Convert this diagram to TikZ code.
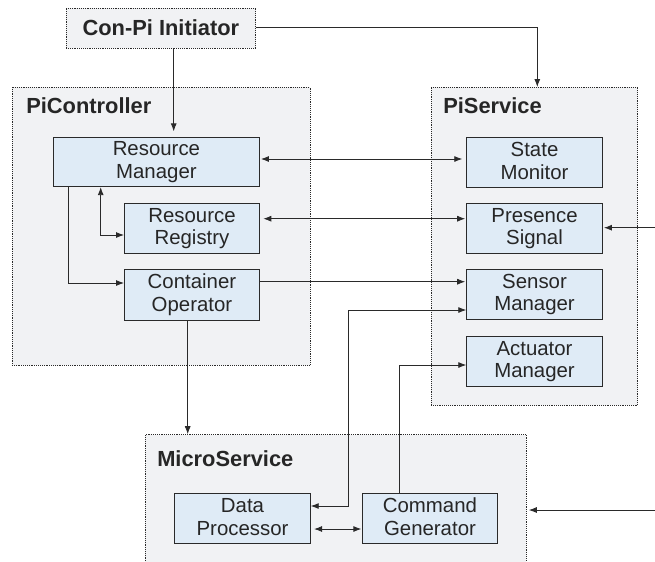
\documentclass[tikz,border=0pt]{standalone}
\usepackage{fontspec}
\setmainfont{Liberation Sans}
\usetikzlibrary{arrows.meta}
\definecolor{boxfill}{HTML}{DFEBF6}
\definecolor{groupfill}{HTML}{F1F2F4}
\definecolor{linecol}{HTML}{2A2A2A}
\definecolor{textcol}{HTML}{262626}
\newcommand{\lstrut}{\rule[-2.4pt]{0pt}{12pt}}
\newcommand{\twol}[2]{\lstrut #1\\\lstrut #2}
\tikzset{
  x=0.75pt,y=-0.75pt,
  group/.style={draw=linecol,dash pattern=on 0.7pt off 0.7pt,line width=0.6pt,fill=groupfill,inner sep=0pt,anchor=north west},
  comp/.style={draw=linecol,line width=0.7pt,fill=boxfill,align=center,text=textcol,font=\fontsize{15.3}{17}\selectfont,inner sep=0pt,anchor=north west},
  grouplabel/.style={font=\fontsize{16.4}{19}\selectfont\bfseries,text=textcol,anchor=west,inner sep=0pt},
  conn/.style={draw=linecol,line width=0.65pt,-{Latex[length=6pt,width=4.5pt]}},
  conn2/.style={draw=linecol,line width=0.65pt,{Latex[length=6pt,width=4.5pt]}-{Latex[length=6pt,width=4.5pt]}},
}
\begin{document}
\begin{tikzpicture}
\useasboundingbox (0,0) rectangle (655,561);
\fill[white] (0,0) rectangle (655,561);
% groups
\node[group,minimum width=298*0.75pt,minimum height=278*0.75pt] (pc) at (11.5,87) {};
\node[group,minimum width=206.5*0.75pt,minimum height=318*0.75pt] (ps) at (430.7,87) {};
\node[group,minimum width=381*0.75pt,minimum height=180*0.75pt] (ms) at (145,434.2) {};
\node[group,minimum width=189.5*0.75pt,minimum height=40*0.75pt,text=textcol,text height=12pt,text depth=1.6pt,font=\fontsize{16.4}{19}\selectfont\bfseries] (init) at (65.7,8) {Con-Pi Initiator};
\node[grouplabel] (pcl) at (26,106) {PiController};
\node[grouplabel] (psl) at (443,106) {PiService};
\node[grouplabel] (msl) at (157,459) {MicroService};
% comps
\node[comp,minimum width=206.5*0.75pt,minimum height=49.5*0.75pt] (rm) at (52.7,136.7) {\twol{Resource}{Manager}};
\node[comp,minimum width=135*0.75pt,minimum height=50*0.75pt] (rr) at (124,203) {\twol{Resource}{Registry}};
\node[comp,minimum width=135*0.75pt,minimum height=50.5*0.75pt] (co) at (124,269.3) {\twol{Container}{Operator}};
\node[comp,minimum width=135.5*0.75pt,minimum height=50*0.75pt] (sm) at (466.3,136.7) {\twol{State}{Monitor}};
\node[comp,minimum width=135.5*0.75pt,minimum height=50*0.75pt] (pres) at (466.3,203) {\twol{Presence}{Signal}};
\node[comp,minimum width=135.5*0.75pt,minimum height=50*0.75pt] (sens) at (466.3,269) {\twol{Sensor}{Manager}};
\node[comp,minimum width=135.5*0.75pt,minimum height=50*0.75pt] (act) at (466.3,336) {\twol{Actuator}{Manager}};
\node[comp,minimum width=135.5*0.75pt,minimum height=50*0.75pt] (dp) at (174.3,493) {\twol{Data}{Processor}};
\node[comp,minimum width=135*0.75pt,minimum height=50*0.75pt] (cg) at (362,493) {\twol{Command}{Generator}};
\coordinate (e1) at (655,227.7);
\coordinate (e2) at (655,510);
% connectors
\draw[conn,shorten >=4pt] (173.7,0 |- init.south) -- (173.7,0 |- rm.north);
\draw[conn] (init.east |- 0,27.3) -| (ps.north -| 537.3,0);
\draw[conn2,shorten <=0.6pt,shorten >=3pt] (rm.east |- 0,159) -- (sm.west |- 0,159);
\draw[conn2,shorten <=2.5pt,shorten >=0.8pt] (rr.east |- 0,218.7) -- (pres.west |- 0,218.7);
\draw[conn,shorten >=0.8pt] (co.east |- 0,281.7) -- (sens.west |- 0,281.7);
\draw[conn,shorten >=0.9pt] (e1) -- (pres.east |- e1);
\draw[conn,shorten >=1.5pt] (e2) -- (ms.east |- e2);
\draw[conn2,shorten <=2.5pt,shorten >=0.5pt] (dp.east |- 0,529) -- (cg.west |- 0,529);
\draw[conn2] (rm.south -| 100.7,0) -- (100.7,235) -- (rr.west |- 0,235);
\draw[conn] (rm.south -| 68.3,0) -- (68.3,283) -- (co.west |- 0,283);
\draw[conn] (co.south -| 187.7,0) -- (187.7,0 |- ms.north);
\draw[conn2] (sens.west |- 0,310) -- (348.3,310) -- (348.3,506) -- (dp.east |- 0,506);
\draw[conn] (cg.north -| 399,0) -- (399,365) -- (act.west |- 0,365);
\end{tikzpicture}
\end{document}
